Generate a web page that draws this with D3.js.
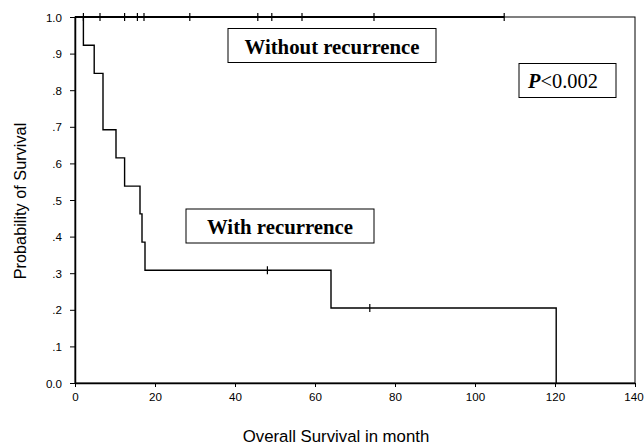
<!DOCTYPE html>
<html>
<head>
<meta charset="utf-8">
<script src="https://cdn.jsdelivr.net/npm/d3@7"></script>
<style>
  body { margin: 0; background: #fff; }
  svg { display: block; }
</style>
</head>
<body>
<div id="chart"></div>
<script>
const width = 644;
const height = 444;

// with recurrence: step times (months) and survival after each step
const recTimes = [0, 2.1, 4.8, 7, 7, 10.25, 12.4, 16.25, 16.75, 17.5, 64, 120.3];
const recSurv  = [1, 0.923, 0.846, 0.769, 0.692, 0.615, 0.538, 0.462, 0.385, 0.308, 0.205, 0];
const recCensorTimes = [48.1, 73.7];
const recCensorSurv  = [0.308, 0.205];

// without recurrence: no events, censored only
const noRecCensorTimes = [2.1, 6.25, 12.4, 15.6, 17.25, 28.7, 45.7, 49.2, 56.75, 74.75, 107.3];
const noRecEnd = 107.3;

const xTicks = [0, 20, 40, 60, 80, 100, 120, 140];
const yTicks = [0, 0.1, 0.2, 0.3, 0.4, 0.5, 0.6, 0.7, 0.8, 0.9, 1.0];

const margin = { top: 17, right: 9, bottom: 61, left: 75 };

const svg = d3.select("#chart")
  .append("svg")
  .attr("width", width)
  .attr("height", height);

const x = d3.scaleLinear().domain([0, 140]).range([margin.left, width - margin.right]);
const y = d3.scaleLinear().domain([0, 1]).range([height - margin.bottom, margin.top]);

const sans = "'Liberation Sans', Arial, sans-serif";
const serif = "'Liberation Serif', 'Times New Roman', serif";

// frame
svg.append("rect")
  .attr("x", x(0))
  .attr("y", y(1))
  .attr("width", x(140) - x(0))
  .attr("height", y(0) - y(1))
  .attr("fill", "none")
  .attr("stroke", "#000")
  .attr("stroke-width", 1);

// axes
const xAxis = svg.append("g")
  .attr("transform", `translate(0,${y(0)})`)
  .call(d3.axisBottom(x).tickValues(xTicks).tickSize(4).tickSizeOuter(0));

const yAxis = svg.append("g")
  .attr("transform", `translate(${x(0)},0)`)
  .call(d3.axisLeft(y).tickValues(yTicks).tickSize(5).tickSizeOuter(0)
    .tickFormat(d => d === 0 ? "0.0" : d === 1 ? "1.0" : d3.format(".1f")(d).replace(/^0/, "")));

[xAxis, yAxis].forEach(a => {
  a.select(".domain").attr("stroke-width", 1.5);
  a.selectAll(".tick line").attr("stroke-width", 1);
  a.selectAll("text")
    .style("font-family", sans)
    .style("font-size", "11.6px")
    .attr("fill", "#000");
});
xAxis.selectAll("text").attr("y", 6).attr("dy", "1em");
// last label sits right at the edge of the window
xAxis.selectAll(".tick text").filter(d => d === 140).attr("dx", -1.5);
yAxis.selectAll("text").attr("dx", "-5").attr("dy", "0.36em");

// curves
const line = d3.line()
  .x(d => x(d[0]))
  .y(d => y(d[1]))
  .curve(d3.curveStepAfter);

const recPoints = recTimes.map((t, i) => [t, recSurv[i]]);
svg.append("path")
  .attr("d", line(recPoints))
  .attr("fill", "none")
  .attr("stroke", "#000")
  .attr("stroke-width", 1.4);

svg.append("path")
  .attr("d", line([[0, 1], [noRecEnd, 1]]))
  .attr("fill", "none")
  .attr("stroke", "#000")
  .attr("stroke-width", 1.8);

// censor marks
svg.selectAll("line.cens1")
  .data(recCensorTimes)
  .join("line")
  .attr("x1", d => x(d)).attr("x2", d => x(d))
  .attr("y1", (d, i) => y(recCensorSurv[i]) - 4)
  .attr("y2", (d, i) => y(recCensorSurv[i]) + 4)
  .attr("stroke", "#000")
  .attr("stroke-width", 1.2);

svg.selectAll("line.cens2")
  .data(noRecCensorTimes)
  .join("line")
  .attr("x1", d => x(d)).attr("x2", d => x(d))
  .attr("y1", y(1) - 4)
  .attr("y2", y(1) + 4)
  .attr("stroke", "#000")
  .attr("stroke-width", 1.2);

// label boxes
function labelBox(bx, by, bw, bh, tx, ty) {
  svg.append("rect")
    .attr("x", bx).attr("y", by)
    .attr("width", bw).attr("height", bh)
    .attr("fill", "#fff")
    .attr("stroke", "#000")
    .attr("stroke-width", 1);
  return svg.append("text")
    .attr("x", tx).attr("y", ty)
    .style("font-family", serif)
    .style("font-size", "20.8px")
    .attr("fill", "#000");
}

labelBox(228, 28.5, 208, 34, 332, 53.5)
  .attr("text-anchor", "middle")
  .style("font-weight", "bold")
  .text("Without recurrence");

labelBox(186, 209, 188, 34, 280, 233.5)
  .attr("text-anchor", "middle")
  .style("font-weight", "bold")
  .text("With recurrence");

const pText = labelBox(519, 63.5, 97, 34, 528, 87.5).style("font-size", "20.4px");
pText.append("tspan").style("font-weight", "bold").style("font-style", "italic").text("P");
pText.append("tspan").text("<0.002");

// axis titles
svg.append("text")
  .attr("transform", `translate(26,201) rotate(-90)`)
  .attr("text-anchor", "middle")
  .style("font-family", sans)
  .style("font-size", "16.3px")
  .text("Probability of Survival");

svg.append("text")
  .attr("x", 336)
  .attr("y", 441.5)
  .attr("text-anchor", "middle")
  .style("font-family", sans)
  .style("font-size", "16.8px")
  .text("Overall Survival in month");
</script>
</body>
</html>
